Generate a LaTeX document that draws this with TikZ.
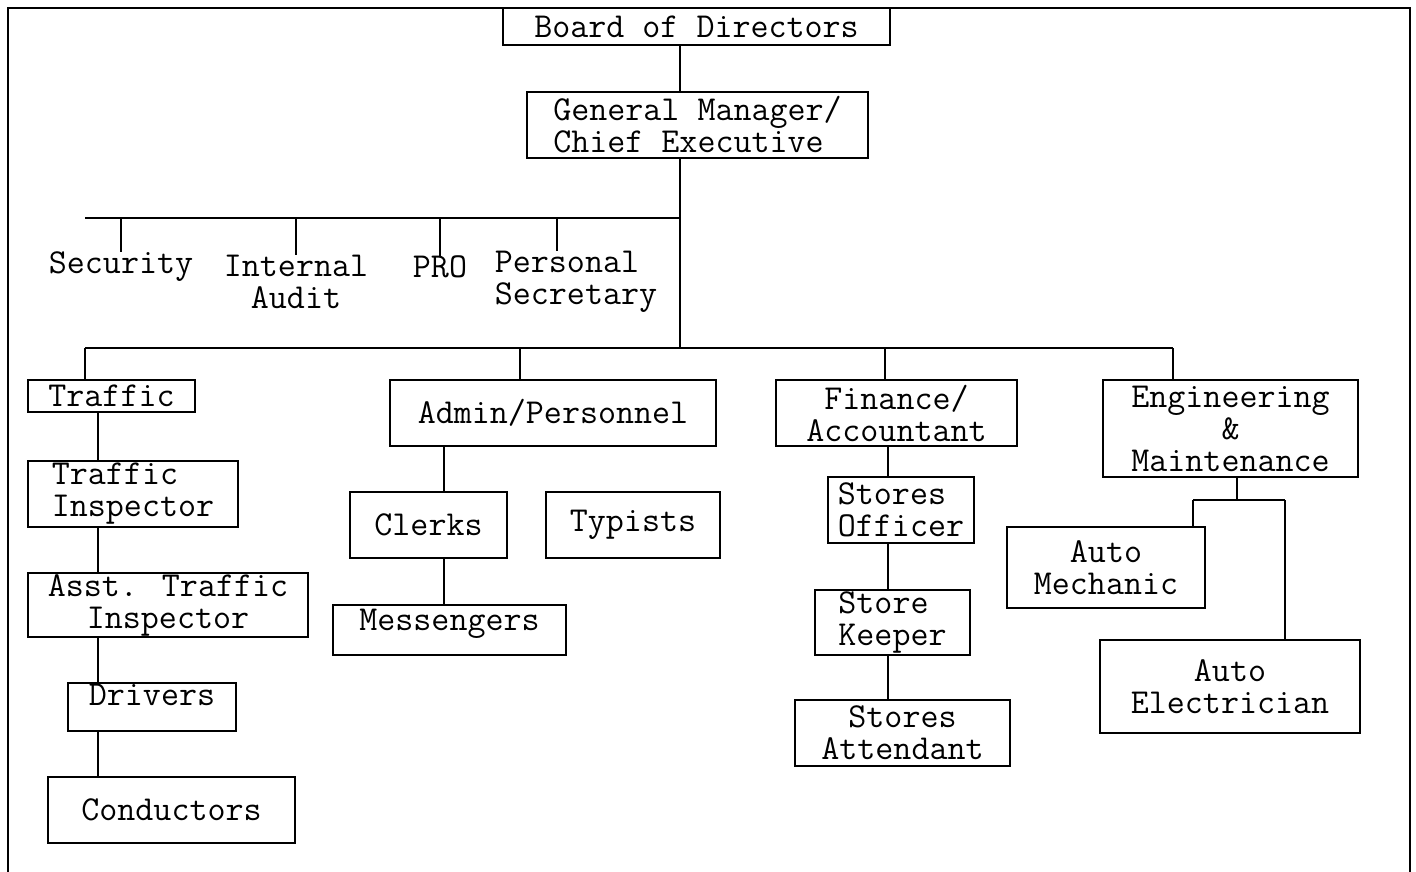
\documentclass[tikz,border=0pt]{standalone}
\usepackage{tikz}
\usetikzlibrary{positioning,calc}
\tikzset{
  post/.style={draw, line width=2.6pt, inner sep=0pt, align=center, font=\fontsize{35}{32}\ttfamily},
  staffpost/.style={inner sep=0pt, align=center, font=\fontsize{35}{32}\ttfamily},
  link/.style={line width=2.6pt},
}
\begin{document}
\begin{tikzpicture}[x=1pt,y=-1pt]
    \useasboundingbox (0,0) rectangle (1416,872);
    \draw [line width=2.6pt] (8,872) -- (8,8) -- (1410,8) -- (1410,872); % Frame

    % Top
    \node [post, minimum width=387pt, minimum height=37pt] (board) at (696.5,26.5) {Board of Directors};
    \node [post, minimum width=341pt, minimum height=66pt, align=left] (gm) at (697.5,125) {General Manager/\\Chief Executive};

    % Spine and bars
    \coordinate (spine) at (680,0);
    \coordinate (staffL) at (85,218);
    \coordinate (staffR) at (680,218);
    \coordinate (busL) at (85,348);
    \coordinate (busR) at (1173,348);
    \coordinate (dropA) at (520,348);
    \coordinate (dropF) at (885,348);
    \coordinate (colT) at (98,0);
    \coordinate (colA) at (444,0);
    \coordinate (colF) at (888,0);
    \coordinate (colE) at (1237,0);

    % Staff offices
    \node [staffpost] (sec) at (121,267) {Security};
    \node [staffpost] (audit) at (296,282) {Internal\\Audit};
    \node [staffpost] (pro) at (440,267) {PRO};
    \node [staffpost, align=left] (psec) at (576,282) {Personal\\Secretary};

    % Departments
    \node [post, minimum width=167pt, minimum height=32pt] (traffic) at (111.5,396) {Traffic};
    \node [post, minimum width=326pt, minimum height=66pt] (admin) at (553,413) {Admin/Personnel};
    \node [post, minimum width=241pt, minimum height=66pt] (fin) at (896.5,413) {Finance/\\Accountant};
    \node [post, minimum width=255pt, minimum height=97pt] (eng) at (1230.5,428.5) {Engineering\\\&\\Maintenance};

    % Traffic line
    \node [post, minimum width=210pt, minimum height=66pt, align=left] (tinsp) at (133,494) {Traffic\\Inspector};
    \node [post, minimum width=280pt, minimum height=64pt] (atinsp) at (168,605) {Asst. Traffic\\Inspector};
    \node [post, minimum width=168pt, text height=22pt, text depth=26pt] (drivers) at (152,707) {Drivers};
    \node [post, minimum width=247pt, minimum height=66pt] (cond) at (171.5,810) {Conductors};

    % Admin line
    \node [post, minimum width=157pt, minimum height=66pt] (clerks) at (428.5,525) {Clerks};
    \node [post, minimum width=174pt, minimum height=66pt] (typists) at (633,525) {Typists};
    \node [post, minimum width=233pt, text height=25pt, text depth=25pt] (mess) at (449.5,630) {Messengers};

    % Finance line
    \node [post, minimum width=146pt, minimum height=66pt, align=left] (sofc) at (901,510) {Stores\\Officer};
    \node [post, minimum width=155pt, minimum height=65pt, align=left] (skeep) at (892.5,622.5) {Store\\Keeper};
    \node [post, minimum width=215pt, minimum height=66pt] (satt) at (902.5,733) {Stores\\Attendant};

    % Engineering line
    \coordinate (fork) at (1237,500);
    \coordinate (forkL) at (1193,500);
    \coordinate (forkR) at (1285,500);
    \node [post, minimum width=198pt, minimum height=81pt] (mech) at (1106,567.5) {Auto\\Mechanic};
    \node [post, minimum width=260pt, minimum height=93pt] (elec) at (1230,686.5) {Auto\\Electrician};

    % Connectors
    \draw [link] (board.south -| spine) -- (gm.north -| spine);
    \draw [link] (gm.south -| spine) -- (busR -| spine);
    \draw [link] (staffL) -- (staffR);
    \draw [link] (busL) -- (busR);
    \draw [link] (staffL -| sec.north) -- (sec.north);
    \draw [link] (staffL -| audit.north) -- (audit.north);
    \draw [link] (staffL -| pro.north) -- (pro.north);
    \draw [link] (staffL -| 557,0) -- (psec.north -| 557,0);
    \draw [link] (busL) -- (busL |- traffic.north);
    \draw [link] (dropA) -- (dropA |- admin.north);
    \draw [link] (dropF) -- (dropF |- fin.north);
    \draw [link] (busR) -- (busR |- eng.north);
    \draw [link] (traffic.south -| colT) -- (tinsp.north -| colT);
    \draw [link] (tinsp.south -| colT) -- (atinsp.north -| colT);
    \draw [link] (atinsp.south -| colT) -- (drivers.north -| colT);
    \draw [link] (drivers.south -| colT) -- (cond.north -| colT);
    \draw [link] (admin.south -| colA) -- (clerks.north -| colA);
    \draw [link] (clerks.south -| colA) -- (mess.north -| colA);
    \draw [link] (fin.south -| colF) -- (sofc.north -| colF);
    \draw [link] (sofc.south -| colF) -- (skeep.north -| colF);
    \draw [link] (skeep.south -| colF) -- (satt.north -| colF);
    \draw [link] (eng.south -| colE) -- (fork);
    \draw [link] (forkL) -- (forkR);
    \draw [link] (forkL) -- (forkL |- mech.north);
    \draw [link] (forkR) -- (forkR |- elec.north);
\end{tikzpicture}
\end{document}
